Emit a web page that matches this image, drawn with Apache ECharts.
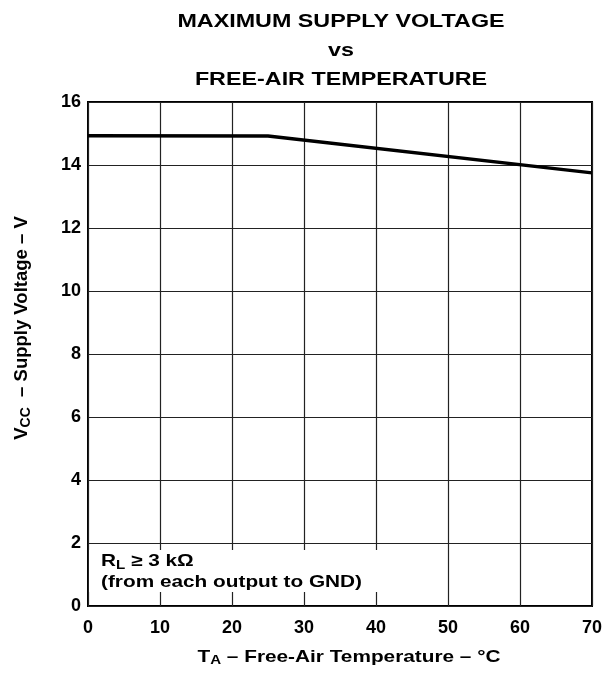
<!DOCTYPE html>
<html>
<head>
<meta charset="utf-8">
<script src="https://cdn.jsdelivr.net/npm/echarts@6/dist/echarts.min.js"></script>
<style>
html,body{margin:0;padding:0;background:#fff;}
#chart{width:616px;height:673px;}
</style>
</head>
<body>
<div id="chart"></div>
<script>
var temperature = [0, 25, 70];
var supplyVoltage = [14.93, 14.92, 13.75];
var xTicks = [0, 10, 20, 30, 40, 50, 60, 70];
var yTicks = [0, 2, 4, 6, 8, 10, 12, 14, 16];
var titleLines = ['MAXIMUM SUPPLY VOLTAGE', 'vs', 'FREE-AIR TEMPERATURE'];

var FONT = '"Liberation Sans", Arial, Helvetica, sans-serif';
var SX = 1.26;
var chart = echarts.init(document.getElementById('chart'));
var pts = temperature.map(function (t, i) { return [t, supplyVoltage[i]]; });

function rich(size, lh) {
  return {
    b: { fontFamily: FONT, fontWeight: 'bold', fontSize: size, lineHeight: lh, fill: '#000', color: '#000' },
    s: { fontFamily: FONT, fontWeight: 'bold', fontSize: Math.round(size * 0.75), lineHeight: lh, fill: '#000', color: '#000', verticalAlign: 'bottom', padding: [Math.round(size * 0.45), 0, 0, 0] }
  };
}

chart.setOption({
  backgroundColor: '#ffffff',
  animation: false,
  grid: { left: 88, right: 24, top: 102, bottom: 67, show: true, borderColor: '#000', borderWidth: 2, backgroundColor: 'transparent' },
  xAxis: {
    type: 'value', min: xTicks[0], max: xTicks[xTicks.length - 1], interval: 10,
    axisLine: { show: false },
    axisTick: { show: false },
    axisLabel: { margin: 13, fontFamily: FONT, fontWeight: 'bold', fontSize: 18, color: '#000' },
    splitLine: { show: true, lineStyle: { color: '#222', width: 1.2 } }
  },
  yAxis: {
    type: 'value', min: yTicks[0], max: yTicks[yTicks.length - 1], interval: 2,
    name: '{b|V}{s|CC}{b|  – Supply Voltage – V}',
    nameLocation: 'middle', nameGap: 55, nameRotate: 90,
    nameTextStyle: { padding: [0, 0, 0, 52], rich: rich(18.5, 22) },
    axisLine: { show: false },
    axisTick: { show: false },
    axisLabel: { margin: 7, fontFamily: FONT, fontWeight: 'bold', fontSize: 18, color: '#000' },
    splitLine: { show: true, lineStyle: { color: '#222', width: 1.2 } }
  },
  series: [{
    type: 'line', data: pts, symbol: 'none',
    lineStyle: { color: '#000', width: 3.5 }, z: 5
  }],
  graphic: [
    { type: 'text', x: 341, y: 7, scaleX: SX, z: 11, style: {
      text: titleLines.join('\n'), align: 'center',
      font: 'bold 18.5px ' + FONT, lineHeight: 29, fill: '#000'
    } },
    { type: 'text', x: 349, y: 647, scaleX: SX, z: 11, style: {
      text: '{b|T}{s|A}{b| – Free-Air Temperature – °C}', align: 'center',
      rich: rich(16.5, 20)
    } },
    { type: 'rect', shape: { x: 89, y: 550, width: 291, height: 42 }, style: { fill: '#fff' }, z: 10 },
    { type: 'text', x: 101, y: 551, scaleX: SX, z: 11, style: {
      text: '{b|R}{s|L}{b| ≥ 3 kΩ}\n{b|(from each output to GND)}',
      rich: rich(16.5, 21)
    } }
  ]
});
</script>
</body>
</html>
